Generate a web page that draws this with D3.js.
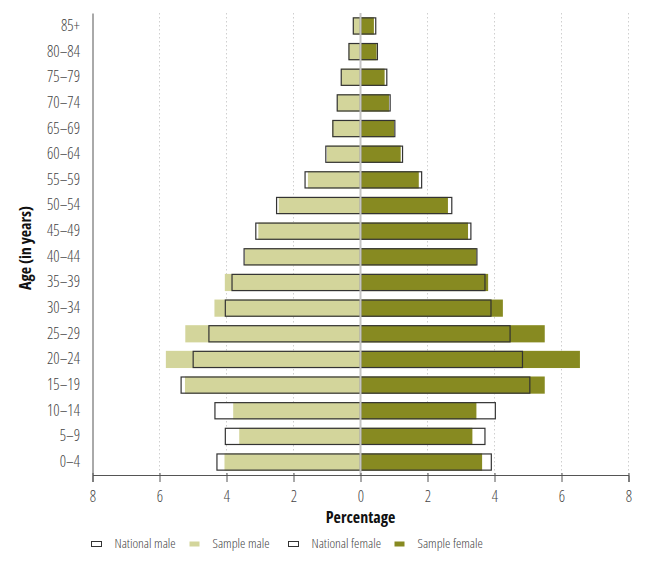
<!DOCTYPE html>
<html><head><meta charset="utf-8">
<script src="https://cdn.jsdelivr.net/npm/d3@7"></script>
<style>
body{margin:0;background:#fff;}
text{font-family:"Open Sans",sans-serif;font-stretch:75%;}
</style></head>
<body><svg id="chart" width="658" height="562"></svg>
<script>
const ageGroups = ["0–4","5–9","10–14","15–19","20–24","25–29","30–34","35–39","40–44","45–49","50–54","55–59","60–64","65–69","70–74","75–79","80–84","85+"];
const nationalMale   = [4.30,4.05,4.36,5.37,5.01,4.54,4.05,3.85,3.49,3.14,2.52,1.67,1.05,0.84,0.71,0.59,0.36,0.23];
const sampleMale     = [4.06,3.62,3.80,5.24,5.81,5.23,4.36,4.05,3.45,3.05,2.44,1.57,1.00,0.85,0.70,0.58,0.35,0.22];
const nationalFemale = [3.92,3.73,4.04,5.07,4.85,4.48,3.91,3.73,3.49,3.31,2.74,1.84,1.27,1.04,0.90,0.80,0.52,0.47];
const sampleFemale   = [3.63,3.34,3.46,5.50,6.55,5.50,4.25,3.81,3.46,3.21,2.61,1.74,1.20,1.00,0.85,0.72,0.48,0.40];
const xTicks = [-8,-6,-4,-2,0,2,4,6,8];
const legendLabels = ["National male","Sample male","National female","Sample female"];

const cMale = "#d3d59b", cFemale = "#878a21", cStroke = "#333";
const svg = d3.select("#chart");
const x = d3.scaleLinear().domain([-8,8]).range([92.5,628.5]);
const y = d3.scaleBand().domain(ageGroups).range([475,13]).paddingInner(0.33).paddingOuter(0.17);

svg.append("g").selectAll("line").data(xTicks.filter(d=>d!==0 && d!==-8)).join("line")
  .attr("x1",d=>x(d)).attr("x2",d=>x(d)).attr("y1",13).attr("y2",475)
  .attr("stroke","#cfcfcf").attr("stroke-dasharray","1.5,2.5").attr("stroke-width",1);

const rows = ageGroups.map((a,i)=>({a, nm:nationalMale[i], sm:sampleMale[i], nf:nationalFemale[i], sf:sampleFemale[i]}));
const g = svg.append("g");
g.selectAll(".nmf").data(rows).join("rect").attr("x",d=>x(-d.nm)).attr("width",d=>x(0)-x(-d.nm))
  .attr("y",d=>y(d.a)).attr("height",y.bandwidth()).attr("fill","#fff");
g.selectAll(".nff").data(rows).join("rect").attr("x",x(0)).attr("width",d=>x(d.nf)-x(0))
  .attr("y",d=>y(d.a)).attr("height",y.bandwidth()).attr("fill","#fff");
g.selectAll(".sm").data(rows).join("rect").attr("x",d=>x(-d.sm)).attr("width",d=>x(0)-x(-d.sm))
  .attr("y",d=>y(d.a)).attr("height",y.bandwidth()).attr("fill",cMale);
g.selectAll(".sf").data(rows).join("rect").attr("x",x(0)).attr("width",d=>x(d.sf)-x(0))
  .attr("y",d=>y(d.a)).attr("height",y.bandwidth()).attr("fill",cFemale);
g.selectAll(".nmo").data(rows).join("rect").attr("x",d=>x(-d.nm)+0.5).attr("width",d=>x(0)-x(-d.nm)-0.5)
  .attr("y",d=>y(d.a)+0.5).attr("height",y.bandwidth()-1).attr("fill","none").attr("stroke",cStroke).attr("stroke-width",1.2);
g.selectAll(".nfo").data(rows).join("rect").attr("x",x(0)).attr("width",d=>x(d.nf)-x(0)-0.5)
  .attr("y",d=>y(d.a)+0.5).attr("height",y.bandwidth()-1).attr("fill","none").attr("stroke",cStroke).attr("stroke-width",1.2);

svg.append("line").attr("x1",x(0)).attr("x2",x(0)).attr("y1",13).attr("y2",475).attr("stroke","#c4c4c4").attr("stroke-width",2);

const xAxis = svg.append("g").attr("transform","translate(0,475)")
  .call(d3.axisBottom(x).tickValues(xTicks).tickFormat(d=>Math.abs(d)).tickSizeOuter(0).tickSize(7).tickPadding(4));
xAxis.select(".domain").attr("stroke","#555");
xAxis.selectAll(".tick line").attr("stroke","#555").attr("y1",-2);
xAxis.selectAll("text").attr("font-size",15.5).attr("font-weight",300).attr("fill","#444").attr("dy","1.0em");
const yAxis = svg.append("g").attr("transform","translate(92.5,0)")
  .call(d3.axisLeft(y).tickSize(0).tickSizeOuter(0).tickPadding(12.5));
yAxis.select(".domain").attr("stroke","#555");
yAxis.selectAll("text").attr("font-size",15.5).attr("font-weight",300).attr("fill","#444");

svg.append("text").attr("x",x(0)).attr("y",523).attr("text-anchor","middle").attr("font-size",16).attr("font-weight","bold").attr("fill","#111").text("Percentage");
svg.append("text").attr("transform","translate(31,248) rotate(-90)").attr("text-anchor","middle").attr("font-size",16).attr("font-weight","bold").attr("fill","#111").text("Age (in years)");

const legX = [91,189,288,394];
const lg = svg.append("g");
legendLabels.forEach((lab,i)=>{
  const nat = i%2===0;
  lg.append("rect").attr("x",legX[i]+0.5).attr("y",541.5).attr("width",10).attr("height",5)
    .attr("fill", nat ? "#fff" : (i===1?cMale:cFemale)).attr("stroke", nat? "#333":"none");
  lg.append("text").attr("x",legX[i]+23.5).attr("y",548).attr("font-size",13.5).attr("font-weight",300).attr("fill","#444").text(lab);
});
</script></body></html>
